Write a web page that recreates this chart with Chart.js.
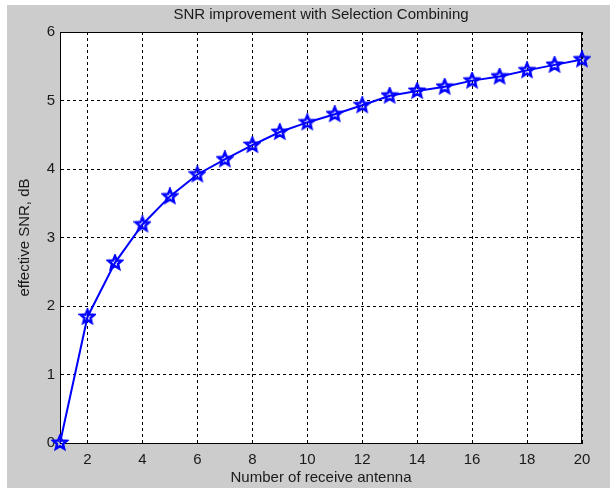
<!DOCTYPE html>
<html>
<head>
<meta charset="utf-8">
<script src="https://cdn.jsdelivr.net/npm/chart.js@4/dist/chart.umd.min.js"></script>
<style>
  html, body { margin: 0; padding: 0; background: #ffffff; }
  #wrap { width: 610px; height: 488px; }
</style>
</head>
<body>
<div id="wrap"><canvas id="chart1" width="610" height="488"></canvas></div>
<script>
// Datos
var antennas = [1, 2, 3, 4, 5, 6, 7, 8, 9, 10, 11, 12, 13, 14, 15, 16, 17, 18, 19, 20];
var snrDb = [0, 1.84, 2.63, 3.19, 3.60, 3.92, 4.14, 4.35, 4.54, 4.68, 4.80, 4.93, 5.07, 5.14, 5.20, 5.29, 5.35, 5.44, 5.52, 5.60];
var xTicks = [2, 4, 6, 8, 10, 12, 14, 16, 18, 20];
var yTicks = [0, 1, 2, 3, 4, 5, 6];

// Marcador pentagrama estilo MATLAB
function makeStar(r, color) {
    var c = document.createElement('canvas');
    var s = Math.ceil(r * 2 + 4);
    c.width = s; c.height = s;
    var g = c.getContext('2d');
    var cx = s / 2, cy = s / 2;
    g.beginPath();
    for (var i = 0; i < 10; i++) {
        var rad = (i % 2 === 0) ? r : r * 0.45;
        var a = -Math.PI / 2 + i * Math.PI / 5;
        var px = cx + rad * Math.cos(a), py = cy + rad * Math.sin(a);
        if (i === 0) g.moveTo(px, py); else g.lineTo(px, py);
    }
    g.closePath();
    g.strokeStyle = color;
    g.lineWidth = 2.5;
    g.lineJoin = 'miter';
    g.stroke();
    return c;
}
var star = makeStar(7, '#0000ff');

// Fondo gris y marco del area
var frame = {
    id: 'frame',
    beforeDraw: function(chart) {
        var ctx = chart.ctx;
        ctx.save();
        ctx.fillStyle = '#ffffff';
        ctx.fillRect(0, 0, chart.width, chart.height);
        ctx.fillStyle = '#cccccc';
        ctx.fillRect(7, 5, chart.width - 7, chart.height - 5);
        var a = chart.chartArea;
        ctx.fillStyle = '#ffffff';
        ctx.fillRect(a.left, a.top, a.right - a.left, a.bottom - a.top);
        ctx.restore();
    },
    beforeDatasetsDraw: function(chart) {
        var ctx = chart.ctx, a = chart.chartArea;
        ctx.save();
        ctx.strokeStyle = '#000000';
        ctx.lineWidth = 1;
        ctx.strokeRect(a.left + 0.5, a.top + 0.5, a.right - a.left - 1, a.bottom - a.top);
        ctx.restore();
    }
};

var fontTxt = { family: '"Liberation Sans", Arial, sans-serif', size: 15, weight: 'normal' };

var ctx1 = document.getElementById('chart1').getContext('2d');
var chart1 = new Chart(ctx1, {
    type: 'line',
    data: {
        datasets: [{
            data: antennas.map(function(x, i) { return { x: x, y: snrDb[i] }; }),
            borderColor: '#0000ff',
            borderWidth: 2,
            pointStyle: star,
            pointRadius: 7,
            tension: 0,
            fill: false,
            clip: false
        }]
    },
    plugins: [frame],
    options: {
        responsive: false,
        animation: false,
        layout: { padding: { left: 7, top: 5, right: 28, bottom: 0 } },
        plugins: {
            legend: { display: false },
            tooltip: { enabled: false },
            title: {
                display: true,
                fullSize: false,
                text: 'SNR improvement with Selection Combining',
                color: '#1a1a1a',
                font: fontTxt,
                padding: { top: 1, bottom: 8 }
            }
        },
        scales: {
            x: {
                type: 'linear',
                min: 1,
                max: 20,
                afterBuildTicks: function(axis) {
                    axis.ticks = xTicks.map(function(v) { return { value: v }; });
                },
                afterFit: function(axis) { axis.height = 45; },
                grid: { color: '#000000', lineWidth: 1, drawTicks: false },
                border: { display: true, color: '#000000', dash: [3, 3] },
                ticks: { color: '#1a1a1a', font: fontTxt, padding: 8, maxRotation: 0, autoSkip: false },
                title: {
                    display: true,
                    text: 'Number of receive antenna',
                    color: '#1a1a1a',
                    font: fontTxt,
                    padding: { top: 0, bottom: 1 }
                }
            },
            y: {
                min: 0,
                max: 6,
                afterBuildTicks: function(axis) {
                    axis.ticks = yTicks.map(function(v) { return { value: v }; });
                },
                afterFit: function(axis) { axis.width = 53; },
                grid: { color: '#000000', lineWidth: 1, drawTicks: false },
                border: { display: true, color: '#000000', dash: [3, 3] },
                ticks: { color: '#1a1a1a', font: fontTxt, padding: 5 },
                title: {
                    display: true,
                    text: 'effective SNR, dB',
                    color: '#1a1a1a',
                    font: fontTxt,
                    padding: { top: 9, bottom: 0 }
                }
            }
        }
    }
});
</script>
</body>
</html>
